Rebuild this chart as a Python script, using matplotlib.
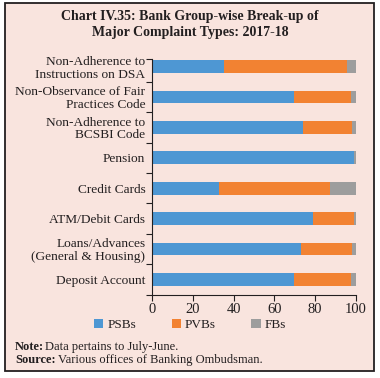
import matplotlib
matplotlib.use("Agg")
import matplotlib.pyplot as plt
import matplotlib.patches as patches
import numpy as np

# complaint types, top to bottom
categories = [
    "Non-Adherence to\nInstructions on DSA",
    "Non-Observance of Fair\nPractices Code",
    "Non-Adherence to\nBCSBI Code",
    "Pension",
    "Credit Cards",
    "ATM/Debit Cards",
    "Loans/Advances\n(General & Housing)",
    "Deposit Account",
]
psbs = [35.2, 69.5, 74.0, 99.2, 33.0, 78.9, 73.2, 69.5]
pvbs = [60.5, 28.0, 24.0, 0.0, 54.6, 20.3, 25.2, 28.0]
fbs = [4.3, 2.5, 2.0, 0.8, 12.4, 0.8, 1.6, 2.5]
series_names = ["PSBs", "PVBs", "FBs"]
xticks = [0, 20, 40, 60, 80, 100]

bg = "#F9E4DE"
colors = ["#4E97D3", "#F28232", "#9D9D9D"]
serif = "Liberation Serif"
ink = "#231F20"

fig = plt.figure(figsize=(3.8, 3.78), dpi=100)
fig.patch.set_facecolor("white")
# panel with dark border
fig.patches.append(patches.Rectangle((5 / 380, 1 - 371 / 378), 369 / 380, 368 / 378,
                                     transform=fig.transFigure, facecolor=bg,
                                     edgecolor=ink, linewidth=1.3, zorder=-5))

ax = fig.add_axes([152.3 / 380, 1 - 294.5 / 378, 203.4 / 380, (294.5 - 59) / 378])
ax.set_facecolor("none")
ax.set_zorder(2)

y = np.arange(len(categories))
left = np.zeros(len(categories))
for vals, name, c in zip([psbs, pvbs, fbs], series_names, colors):
    ax.barh(y, vals, left=left, height=0.42, color=c, label=name, zorder=2)
    left = left + np.array(vals)

ax.set_xlim(0, 100)
ax.set_ylim(7.5, -0.25)
ax.set_xticks(xticks)
ax.set_xticklabels([str(t) for t in xticks], fontfamily=serif, fontsize=10.5, color=ink)
ax.set_yticks(y)
ax.set_yticklabels(categories, fontfamily=serif, fontsize=9.6, color=ink,
                   linespacing=1.05)
ax.tick_params(axis="y", length=0, pad=5)
ax.set_yticks(list(np.arange(0.5, 7.5, 1.0)) + [7.5, -0.25], minor=True)
ax.tick_params(axis="y", which="minor", length=4, width=0.8, color=ink)
ax.tick_params(axis="x", length=4, width=0.8, color=ink, pad=2)
for s in ["top", "right"]:
    ax.spines[s].set_visible(False)
for s in ["left", "bottom"]:
    ax.spines[s].set_color(ink)
    ax.spines[s].set_linewidth(0.8)

leg = fig.legend(loc="center", bbox_to_anchor=(0.5, 1 - 325 / 378), ncol=3, frameon=False,
                 prop={"family": serif, "size": 9.5}, handlelength=0.7, handleheight=0.7,
                 handletextpad=0.3, columnspacing=2.7)
for t in leg.get_texts():
    t.set_color(ink)

fig.text(0.5, 1 - 24.5 / 378, "Chart IV.35: Bank Group-wise Break-up of\nMajor Complaint Types: 2017-18",
         ha="center", va="center", fontfamily=serif, fontweight="bold", fontsize=10,
         color=ink, linespacing=1.3)

fig.text(15 / 380, 1 - 347 / 378, "Note:", ha="left", va="center", fontfamily=serif,
         fontweight="bold", fontsize=9, color=ink)
fig.text(45 / 380, 1 - 347 / 378, "Data pertains to July-June.",
         ha="left", va="center", fontfamily=serif, fontsize=9, color=ink)
fig.text(15 / 380, 1 - 360 / 378, "Source:", ha="left", va="center", fontfamily=serif,
         fontweight="bold", fontsize=9, color=ink)
fig.text(58 / 380, 1 - 360 / 378, "Various offices of Banking Ombudsman.",
         ha="left", va="center", fontfamily=serif, fontsize=9, color=ink)

fig.savefig("out.png", dpi=100, facecolor=fig.get_facecolor())
